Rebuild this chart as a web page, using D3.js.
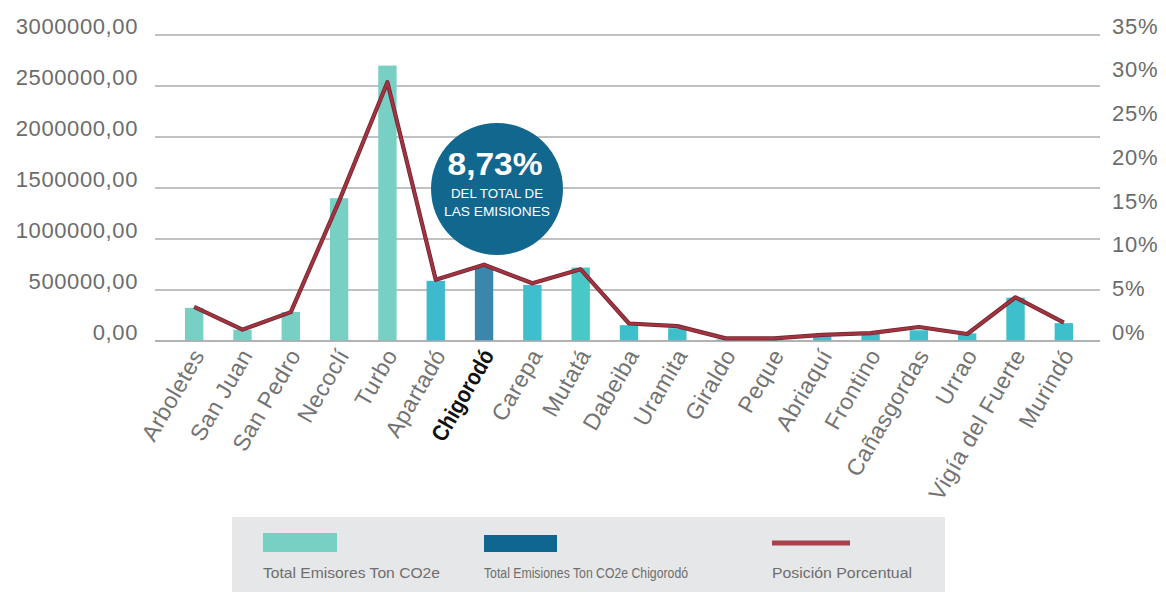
<!DOCTYPE html>
<html>
<head>
<meta charset="utf-8">
<script src="https://cdn.jsdelivr.net/npm/d3@7"></script>
<style>
  html, body { margin: 0; padding: 0; background: #fff; }
  svg { display: block; }
</style>
</head>
<body>
<svg id="chart" width="1166" height="592"></svg>
<script>
// ---------------- data ----------------
const categories = ["Arboletes","San Juan","San Pedro","Necoclí","Turbo","Apartadó","Chigorodó","Carepa","Mutatá","Dabeiba","Uramita","Giraldo","Peque","Abriaquí","Frontino","Cañasgordas","Urrao","Vigía del Fuerte","Murindó"];
const emissions = [325000,110000,285000,1400000,2700000,590000,725000,550000,720000,155000,125000,15000,15000,50000,75000,105000,75000,425000,175000];
const percentages = [3.9,1.3,3.3,16.0,29.6,7.0,8.73,6.6,8.2,2.0,1.7,0.3,0.3,0.7,0.9,1.6,0.8,5.0,2.1];
const leftTicks = [0,500000,1000000,1500000,2000000,2500000,3000000];
const rightTicks = [0,5,10,15,20,25,30,35];
const highlightCategory = "Chigorodó";
const legendLabels = ["Total Emisores Ton CO2e","Total Emisiones Ton CO2e Chigorodó","Posición Porcentual"];
const bubbleTexts = ["8,73%","DEL TOTAL DE","LAS EMISIONES"];

// ---------------- styles ----------------
const barColors = ["#78cfc4","#78cfc4","#78cfc4","#78cfc4","#78cfc4","#3dbacd","#3b86ab","#3fbecd","#48c8c6","#3dbfcc","#3dbfcc","#3dbfcc","#3dbfcc","#3dbfcc","#3dbfcc","#3dbfcc","#3dbfcc","#3dbfcc","#3dbfcc"];
const gridColor = "#adadad";
const tickColor = "#6c6c6c";
const lineColor = "#a3343f";
const bubbleColor = "#12678f";

const svg = d3.select("#chart");

const plotTop = 35, plotBottom = 341, gridLeft = 155, gridRight = 1100;

const x = d3.scaleBand().domain(categories).range([170, 1088]).paddingInner(0.62).paddingOuter(0.31);
const yL = d3.scaleLinear().domain([0, 3000000]).range([plotBottom, plotTop]);
const yR = d3.scaleLinear().domain([0, 35]).range([plotBottom, plotTop]);

// gridlines
svg.append("g").selectAll("line").data(leftTicks).join("line")
  .attr("x1", gridLeft).attr("x2", gridRight)
  .attr("y1", d => yL(d)).attr("y2", d => yL(d))
  .attr("stroke", gridColor).attr("stroke-width", 1.6);

// left axis labels
const fmtL = v => v.toFixed(2).replace(".", ",");
const leftAxis = d3.axisLeft(yL).tickValues(leftTicks).tickFormat(fmtL).tickSize(0).tickPadding(0);
const gL = svg.append("g").attr("transform", "translate(138,0)").call(leftAxis);
gL.select(".domain").remove();
gL.selectAll("text").attr("font-family", "Liberation Sans, Arial, sans-serif")
  .attr("font-size", 22).attr("letter-spacing", 0.6).attr("fill", tickColor).attr("dy", "-0.05em");

// right axis labels
const rightAxis = d3.axisRight(yR).tickValues(rightTicks).tickFormat(d => d + "%").tickSize(0).tickPadding(0);
const gR = svg.append("g").attr("transform", "translate(1112,0)").call(rightAxis);
gR.select(".domain").remove();
gR.selectAll("text").attr("font-family", "Liberation Sans, Arial, sans-serif")
  .attr("font-size", 22).attr("letter-spacing", 0.8).attr("fill", tickColor).attr("dy", "-0.08em");

// bars
svg.append("g").selectAll("rect").data(categories).join("rect")
  .attr("x", d => x(d))
  .attr("width", x.bandwidth())
  .attr("y", (d, i) => yL(emissions[i]))
  .attr("height", (d, i) => yL(0) - yL(emissions[i]))
  .attr("fill", (d, i) => barColors[i]);

// baseline on top of bars
svg.append("line").attr("x1", gridLeft).attr("x2", gridRight)
  .attr("y1", yL(0)).attr("y2", yL(0)).attr("stroke", gridColor).attr("stroke-width", 1.6);

// line
const line = d3.line()
  .x((d, i) => x(categories[i]) + x.bandwidth() / 2)
  .y(d => yR(d));
svg.append("path").datum(percentages)
  .attr("d", line).attr("fill", "none")
  .attr("stroke", "#6e2633").attr("stroke-width", 4.2).attr("stroke-linejoin", "round");
svg.append("path").datum(percentages)
  .attr("d", line).attr("fill", "none")
  .attr("stroke", lineColor).attr("stroke-width", 2.6).attr("stroke-linejoin", "round");

// x labels
const xAxis = d3.axisBottom(x).tickSize(0).tickPadding(0);
const gX = svg.append("g").attr("transform", `translate(0,${plotBottom})`).call(xAxis);
gX.select(".domain").remove();
gX.selectAll("text")
  .attr("font-family", "Liberation Sans, Arial, sans-serif")
  .attr("font-size", 23)
  .attr("letter-spacing", d => d === highlightCategory ? 0 : 0.5)
  .attr("fill", d => d === highlightCategory ? "#111" : "#737373")
  .attr("font-weight", d => d === highlightCategory ? "bold" : "normal")
  .attr("text-anchor", "end")
  .attr("dy", "0.35em")
  .attr("transform", "translate(4,10) rotate(-60)")
  .each(function(d) {
    if (d === highlightCategory) {
      d3.select(this).attr("textLength", 102).attr("lengthAdjust", "spacingAndGlyphs");
    }
  });

// bubble
const bx = 497, by = 189;
svg.append("circle").attr("cx", bx).attr("cy", by).attr("r", 66).attr("fill", bubbleColor);
svg.append("text").attr("x", bx - 2).attr("y", by - 14).attr("text-anchor", "middle")
  .attr("font-family", "Liberation Sans, Arial, sans-serif").attr("font-weight", "bold")
  .attr("font-size", 32).attr("fill", "#fff")
  .attr("textLength", 95).attr("lengthAdjust", "spacingAndGlyphs")
  .text(bubbleTexts[0]);
svg.append("text").attr("x", bx).attr("y", by + 9).attr("text-anchor", "middle")
  .attr("font-family", "Liberation Sans, Arial, sans-serif")
  .attr("font-size", 13).attr("fill", "#fff")
  .attr("textLength", 92).attr("lengthAdjust", "spacingAndGlyphs")
  .text(bubbleTexts[1]);
svg.append("text").attr("x", bx).attr("y", by + 27).attr("text-anchor", "middle")
  .attr("font-family", "Liberation Sans, Arial, sans-serif")
  .attr("font-size", 13).attr("fill", "#fff")
  .attr("textLength", 106).attr("lengthAdjust", "spacingAndGlyphs")
  .text(bubbleTexts[2]);

// legend
const lg = svg.append("g");
lg.append("rect").attr("x", 232).attr("y", 517).attr("width", 713).attr("height", 80).attr("fill", "#e6e7e8");
const legendX = [263, 484, 772];
const legendLens = [177, 204, 140];
lg.append("rect").attr("x", legendX[0]).attr("y", 533).attr("width", 74).attr("height", 19).attr("fill", "#78cfc4");
lg.append("rect").attr("x", legendX[1]).attr("y", 535).attr("width", 73).attr("height", 17).attr("fill", "#0f6690");
lg.append("line").attr("x1", legendX[2]).attr("x2", legendX[2] + 78).attr("y1", 543).attr("y2", 543)
  .attr("stroke", "#a8424d").attr("stroke-width", 5);
lg.selectAll("text.leg").data(legendLabels).join("text")
  .attr("class", "leg")
  .attr("x", (d, i) => legendX[i]).attr("y", 578)
  .attr("font-family", "Liberation Sans, Arial, sans-serif")
  .attr("font-size", 15).attr("fill", "#6e6e6e")
  .attr("textLength", (d, i) => legendLens[i]).attr("lengthAdjust", "spacingAndGlyphs")
  .text(d => d);
</script>
</body>
</html>
